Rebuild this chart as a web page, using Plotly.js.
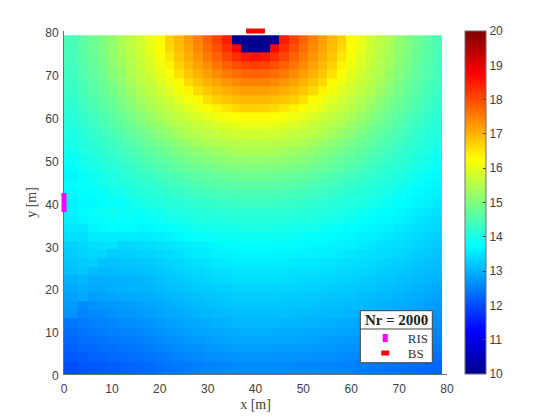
<!DOCTYPE html>
<html><head><meta charset="utf-8">
<script src="https://cdn.plot.ly/plotly-3.0.1.min.js"></script>
<style>html,body{margin:0;padding:0;background:#fff}</style></head>
<body><div id="chart" style="width:560px;height:420px"></div>
<script>
var xEdges=[0,3,5,7,9,11,13,15,17,19,21,23,25,27,29,31,33,35,37,39,41,43,45,47,49,51,53,55,57,59,61,63,65,67,69,71,73,75,77,79];
var yEdges=[0,3,5,7,9,11,13,15,17,19,21,23,25,27,29,31,33,35,37,39,41,43,45,47,49,51,53,55,57,59,61,63,65,67,69,71,73,75,77,79];
var risX=[0], risY=[40];
var bsX=[40], bsY=[80];
var legendTitle='Nr = 2000';
var ticksX=[0,10,20,30,40,50,60,70,80];
var ticksY=[0,10,20,30,40,50,60,70,80];
// rows top (y=78) to bottom (y=1.5)
var rowsTopDown=[
[14.45,14.65,14.8,14.99,15.19,15.44,15.59,15.79,16.04,16.29,16.68,16.93,17.18,17.47,17.77,18.1,18.5,10,10,10,10,10,18.5,18.1,17.77,17.47,17.18,16.93,16.68,16.29,16.04,15.79,15.59,15.44,15.19,14.99,14.8,14.65,14.49],
[14.44,14.63,14.78,14.98,15.17,15.41,15.58,15.77,16.0,16.25,16.61,16.89,17.13,17.4,17.68,17.98,18.3,18.7,10,10,10,18.7,18.3,17.98,17.68,17.4,17.13,16.89,16.61,16.25,16.0,15.77,15.58,15.41,15.17,14.98,14.78,14.63,14.47],
[14.43,14.61,14.76,14.94,15.14,15.37,15.55,15.73,15.94,16.18,16.5,16.81,17.04,17.29,17.55,17.8,18.06,18.3,18.5,18.6,18.5,18.3,18.06,17.8,17.55,17.29,17.04,16.81,16.5,16.18,15.94,15.73,15.55,15.37,15.14,14.94,14.76,14.61,14.46],
[14.4,14.58,14.72,14.9,15.1,15.3,15.5,15.67,15.87,16.1,16.36,16.71,16.93,17.15,17.38,17.6,17.8,17.98,18.1,18.15,18.1,17.98,17.8,17.6,17.38,17.15,16.93,16.71,16.36,16.1,15.87,15.67,15.5,15.3,15.1,14.9,14.72,14.58,14.43],
[14.37,14.54,14.69,14.85,15.04,15.23,15.46,15.6,15.78,16.0,16.22,16.53,16.8,17.0,17.18,17.38,17.55,17.68,17.77,17.8,17.77,17.68,17.55,17.38,17.18,17.0,16.8,16.53,16.22,16.0,15.78,15.6,15.46,15.23,15.04,14.85,14.69,14.54,14.4],
[14.34,14.49,14.65,14.79,14.97,15.15,15.37,15.54,15.69,15.88,16.09,16.3,16.61,16.82,17.0,17.15,17.29,17.4,17.47,17.5,17.47,17.4,17.29,17.15,17.0,16.82,16.61,16.3,16.09,15.88,15.69,15.54,15.37,15.15,14.97,14.79,14.65,14.49,14.37],
[14.28,14.45,14.59,14.73,14.89,15.07,15.26,15.47,15.59,15.76,15.94,16.14,16.34,16.61,16.8,16.93,17.04,17.13,17.18,17.2,17.18,17.13,17.04,16.93,16.8,16.61,16.34,16.14,15.94,15.76,15.59,15.47,15.26,15.07,14.89,14.73,14.59,14.45,14.31],
[14.23,14.39,14.52,14.67,14.8,14.98,15.14,15.34,15.5,15.64,15.79,15.97,16.14,16.3,16.53,16.71,16.81,16.89,16.93,16.95,16.93,16.89,16.81,16.71,16.53,16.3,16.14,15.97,15.79,15.64,15.5,15.34,15.14,14.98,14.8,14.67,14.52,14.39,14.26],
[14.17,14.33,14.46,14.6,14.72,14.87,15.04,15.2,15.39,15.53,15.65,15.79,15.94,16.09,16.22,16.36,16.5,16.61,16.68,16.7,16.68,16.61,16.5,16.36,16.22,16.09,15.94,15.79,15.65,15.53,15.39,15.2,15.04,14.87,14.72,14.6,14.46,14.33,14.2],
[14.12,14.26,14.38,14.51,14.65,14.77,14.92,15.08,15.23,15.41,15.53,15.64,15.76,15.88,16.0,16.1,16.18,16.25,16.29,16.3,16.29,16.25,16.18,16.1,16.0,15.88,15.76,15.64,15.53,15.41,15.23,15.08,14.92,14.77,14.65,14.51,14.38,14.26,14.15],
[14.07,14.19,14.31,14.43,14.55,14.68,14.8,14.94,15.09,15.23,15.39,15.5,15.59,15.69,15.78,15.87,15.94,16.0,16.04,16.05,16.04,16.0,15.94,15.87,15.78,15.69,15.59,15.5,15.39,15.23,15.09,14.94,14.8,14.68,14.55,14.43,14.31,14.19,14.1],
[14.02,14.13,14.23,14.35,14.46,14.58,14.69,14.81,14.94,15.08,15.2,15.34,15.47,15.54,15.6,15.67,15.73,15.77,15.79,15.8,15.79,15.77,15.73,15.67,15.6,15.54,15.47,15.34,15.2,15.08,14.94,14.81,14.69,14.58,14.46,14.35,14.23,14.13,14.05],
[13.97,14.08,14.16,14.26,14.37,14.47,14.59,14.69,14.8,14.92,15.04,15.14,15.26,15.37,15.46,15.5,15.55,15.58,15.59,15.6,15.59,15.58,15.55,15.5,15.46,15.37,15.26,15.14,15.04,14.92,14.8,14.69,14.59,14.47,14.37,14.26,14.16,14.08,14.0],
[13.9,14.02,14.1,14.17,14.27,14.38,14.47,14.58,14.68,14.77,14.87,14.98,15.07,15.15,15.23,15.3,15.37,15.41,15.44,15.45,15.44,15.41,15.37,15.3,15.23,15.15,15.07,14.98,14.87,14.77,14.68,14.58,14.47,14.38,14.27,14.17,14.1,14.02,13.93],
[13.82,13.95,14.03,14.11,14.18,14.27,14.37,14.46,14.55,14.65,14.72,14.8,14.89,14.97,15.04,15.1,15.14,15.17,15.19,15.2,15.19,15.17,15.14,15.1,15.04,14.97,14.89,14.8,14.72,14.65,14.55,14.46,14.37,14.27,14.18,14.11,14.03,13.95,13.85],
[13.74,13.87,13.96,14.04,14.11,14.17,14.26,14.35,14.43,14.51,14.6,14.67,14.73,14.79,14.85,14.9,14.94,14.98,14.99,15.0,14.99,14.98,14.94,14.9,14.85,14.79,14.73,14.67,14.6,14.51,14.43,14.35,14.26,14.17,14.11,14.04,13.96,13.87,13.77],
[13.68,13.78,13.87,13.96,14.03,14.1,14.16,14.23,14.31,14.38,14.46,14.52,14.59,14.65,14.69,14.73,14.76,14.78,14.8,14.8,14.8,14.78,14.76,14.73,14.69,14.65,14.59,14.52,14.46,14.38,14.31,14.23,14.16,14.1,14.03,13.96,13.87,13.78,13.71],
[13.74,13.81,13.83,13.92,14.0,14.02,14.08,14.13,14.19,14.26,14.33,14.39,14.45,14.49,14.54,14.58,14.61,14.63,14.65,14.65,14.65,14.63,14.61,14.58,14.54,14.49,14.45,14.39,14.33,14.26,14.19,14.13,14.08,14.02,13.95,13.87,13.78,13.71,13.66],
[13.69,13.76,13.76,13.82,13.9,13.93,14.0,14.05,14.1,14.15,14.2,14.26,14.31,14.37,14.4,14.43,14.46,14.47,14.49,14.49,14.49,14.47,14.46,14.43,14.4,14.37,14.31,14.26,14.2,14.15,14.1,14.05,14.0,13.93,13.85,13.77,13.71,13.66,13.61],
[13.62,13.71,13.7,13.75,13.8,13.82,13.9,13.96,14.02,14.06,14.11,14.14,14.18,14.22,14.26,14.29,14.32,14.33,14.35,14.35,14.35,14.33,14.32,14.29,14.26,14.22,14.18,14.14,14.11,14.06,14.02,13.96,13.9,13.82,13.75,13.7,13.65,13.61,13.54],
[13.66,13.73,13.8,13.84,13.89,13.83,13.89,13.86,13.92,13.97,14.02,14.05,14.09,14.11,14.14,14.16,14.18,14.19,14.2,14.2,14.2,14.19,14.18,14.16,14.14,14.11,14.09,14.05,14.02,13.97,13.92,13.86,13.79,13.73,13.69,13.64,13.6,13.53,13.48],
[13.6,13.67,13.72,13.78,13.83,13.77,13.81,13.75,13.81,13.86,13.91,13.95,13.99,14.02,14.04,14.06,14.08,14.09,14.1,14.1,14.1,14.09,14.08,14.06,14.04,14.02,13.99,13.95,13.91,13.86,13.81,13.75,13.71,13.67,13.63,13.58,13.52,13.47,13.42],
[13.54,13.51,13.66,13.7,13.75,13.71,13.74,13.67,13.71,13.74,13.79,13.83,13.87,13.91,13.94,13.96,13.98,13.99,14.0,14.0,14.0,13.99,13.98,13.96,13.94,13.91,13.87,13.83,13.79,13.74,13.71,13.67,13.64,13.61,13.55,13.5,13.46,13.41,13.36],
[13.48,13.45,13.55,13.56,13.57,13.55,13.55,13.55,13.57,13.6,13.65,13.7,13.75,13.78,13.81,13.84,13.86,13.87,13.88,13.88,13.88,13.87,13.86,13.84,13.81,13.78,13.75,13.73,13.7,13.67,13.64,13.61,13.57,13.52,13.48,13.44,13.4,13.35,13.3],
[13.31,13.38,13.43,13.47,13.47,13.36,13.37,13.4,13.43,13.47,13.5,13.53,13.57,13.61,13.65,13.69,13.72,13.74,13.75,13.75,13.75,13.74,13.74,13.73,13.71,13.69,13.67,13.65,13.63,13.61,13.57,13.53,13.49,13.45,13.42,13.37,13.33,13.28,13.23],
[13.26,13.33,13.36,13.36,13.25,13.27,13.29,13.31,13.33,13.37,13.41,13.46,13.51,13.56,13.58,13.61,13.64,13.66,13.67,13.67,13.67,13.66,13.66,13.65,13.64,13.62,13.61,13.58,13.55,13.51,13.48,13.46,13.42,13.39,13.35,13.31,13.26,13.23,13.18],
[13.19,13.26,13.28,13.15,13.16,13.18,13.2,13.22,13.25,13.28,13.33,13.37,13.41,13.46,13.49,13.53,13.56,13.59,13.6,13.6,13.6,13.59,13.58,13.57,13.55,13.54,13.51,13.49,13.47,13.44,13.42,13.39,13.35,13.31,13.28,13.23,13.2,13.16,13.11],
[13.13,13.2,13.1,13.06,13.08,13.1,13.12,13.14,13.17,13.21,13.26,13.3,13.34,13.37,13.41,13.44,13.47,13.5,13.5,13.5,13.5,13.5,13.49,13.48,13.47,13.45,13.44,13.42,13.4,13.37,13.34,13.31,13.28,13.25,13.21,13.18,13.14,13.1,13.05],
[12.99,13.05,12.95,12.97,12.99,13.0,13.02,13.04,13.09,13.13,13.18,13.22,13.26,13.3,13.34,13.37,13.4,13.43,13.43,13.43,13.43,13.43,13.42,13.41,13.4,13.38,13.36,13.34,13.32,13.29,13.27,13.23,13.21,13.18,13.14,13.1,13.07,13.03,12.99],
[12.91,12.97,12.9,12.93,12.96,12.99,13.01,13.02,13.04,13.07,13.11,13.15,13.19,13.24,13.26,13.29,13.31,13.34,13.35,13.35,13.35,13.34,13.33,13.33,13.32,13.3,13.29,13.27,13.25,13.23,13.2,13.18,13.15,13.11,13.08,13.05,13.01,12.97,12.93],
[12.83,12.9,12.8,12.84,12.87,12.9,12.92,12.94,12.96,13.0,13.04,13.08,13.11,13.15,13.18,13.21,13.24,13.27,13.27,13.27,13.27,13.27,13.26,13.25,13.24,13.23,13.21,13.2,13.18,13.16,13.12,13.1,13.07,13.05,13.01,12.97,12.94,12.9,12.85],
[12.76,12.62,12.68,12.71,12.74,12.77,12.8,12.84,12.88,12.92,12.96,13.0,13.04,13.08,13.11,13.14,13.17,13.2,13.2,13.2,13.2,13.2,13.19,13.18,13.17,13.16,13.14,13.12,13.1,13.08,13.06,13.04,13.0,12.97,12.94,12.91,12.88,12.82,12.78],
[12.69,12.55,12.58,12.62,12.67,12.7,12.73,12.76,12.81,12.85,12.9,12.93,12.97,13.02,13.03,13.06,13.09,13.12,13.12,13.12,13.12,13.12,13.11,13.1,13.09,13.08,13.07,13.05,13.04,13.01,12.99,12.96,12.93,12.9,12.87,12.82,12.78,12.75,12.71],
[12.41,12.47,12.52,12.55,12.58,12.62,12.65,12.69,12.71,12.77,12.82,12.85,12.9,12.93,12.96,12.99,13.02,13.05,13.05,13.05,13.05,13.05,13.04,13.03,13.02,13.01,13.0,12.97,12.96,12.93,12.91,12.89,12.85,12.82,12.78,12.75,12.72,12.67,12.63],
[12.34,12.4,12.44,12.47,12.51,12.54,12.57,12.6,12.65,12.7,12.75,12.78,12.82,12.87,12.88,12.91,12.94,12.97,12.97,12.97,12.97,12.97,12.96,12.95,12.94,12.93,12.92,12.9,12.89,12.86,12.83,12.8,12.77,12.74,12.71,12.67,12.64,12.6,12.56],
[12.27,12.33,12.37,12.4,12.43,12.46,12.49,12.52,12.57,12.6,12.65,12.69,12.73,12.77,12.81,12.84,12.87,12.89,12.9,12.9,12.9,12.89,12.89,12.88,12.87,12.85,12.83,12.81,12.79,12.76,12.75,12.72,12.69,12.66,12.63,12.6,12.57,12.53,12.49],
[12.2,12.26,12.29,12.33,12.35,12.38,12.41,12.44,12.48,12.53,12.57,12.61,12.65,12.68,12.71,12.74,12.77,12.8,12.8,12.8,12.8,12.8,12.79,12.78,12.77,12.76,12.75,12.73,12.71,12.69,12.66,12.64,12.61,12.58,12.55,12.53,12.49,12.46,12.42],
[12.12,12.17,12.21,12.25,12.28,12.31,12.33,12.36,12.41,12.44,12.49,12.53,12.56,12.62,12.65,12.66,12.69,12.71,12.72,12.72,12.72,12.71,12.71,12.7,12.69,12.68,12.66,12.65,12.63,12.6,12.59,12.56,12.53,12.51,12.48,12.45,12.41,12.37,12.34],
[12.02,12.08,12.11,12.14,12.17,12.2,12.24,12.26,12.31,12.35,12.41,12.45,12.48,12.5,12.53,12.55,12.58,12.6,12.61,12.61,12.61,12.6,12.6,12.59,12.59,12.58,12.56,12.55,12.53,12.51,12.49,12.46,12.44,12.4,12.37,12.34,12.31,12.28,12.24]
];
var jet=[[0,'rgb(0,0,143)'],[0.125,'rgb(0,0,255)'],[0.375,'rgb(0,255,255)'],[0.625,'rgb(255,255,0)'],[0.875,'rgb(255,0,0)'],[1,'rgb(128,0,0)']];
var axisGrey='#6e6e6e', textGrey='#404040', sans='"Liberation Sans",Arial,sans-serif', serif='"Liberation Serif",serif';
var z=rowsTopDown.slice().reverse();
var traces=[
 {type:'heatmap',x:xEdges,y:yEdges,z:z,zmin:10,zmax:20,zsmooth:false,colorscale:jet,showlegend:false,hoverinfo:'skip',
  colorbar:{x:(464.5-63.5)/383.2,xanchor:'left',y:0,yanchor:'bottom',thickness:21,thicknessmode:'pixels',len:1,lenmode:'fraction',
   xpad:0,ypad:0,tick0:10,dtick:1,ticks:'inside',ticklen:3,tickcolor:'#444',tickwidth:1,outlinecolor:axisGrey,outlinewidth:1,
   tickfont:{family:sans,size:12,color:textGrey}}},
 {type:'scatter',mode:'markers',x:risX,y:risY,marker:{symbol:'line-ns',size:13.5,color:'#ff00ff',line:{color:'#ff00ff',width:5}},cliponaxis:false,showlegend:false,hoverinfo:'skip'},
 {type:'scatter',mode:'markers',x:bsX,y:bsY,marker:{symbol:'line-ew',size:13.5,color:'#ff0000',line:{color:'#ff0000',width:5}},cliponaxis:false,showlegend:false,hoverinfo:'skip'},
 {type:'scatter',mode:'markers',name:'RIS',legend:'legend3',x:[null],y:[null],marker:{symbol:'line-ns',size:5.7,color:'#ff00ff',line:{color:'#ff00ff',width:5}}},
 {type:'scatter',mode:'markers',name:'BS',legend:'legend2',x:[null],y:[null],marker:{symbol:'line-ew',size:5.7,color:'#ff0000',line:{color:'#ff0000',width:5}}}
];
var axis={range:[0,80],ticks:'inside',ticklen:3,tickcolor:axisGrey,showline:true,linecolor:axisGrey,linewidth:1,showgrid:false,zeroline:false,layer:'below traces',
  tickfont:{family:sans,size:12,color:textGrey}};
var itemFont={family:serif,size:13,color:'#333'};
var legendBase={x:0.78,xanchor:'left',yanchor:'top',bgcolor:'rgba(0,0,0,0)',borderwidth:0,itemwidth:35,font:itemFont};
var layout={width:560,height:420,paper_bgcolor:'#fff',plot_bgcolor:'#fff',
 margin:{l:63.5,r:113.3,t:31,b:46,autoexpand:false},
 xaxis:Object.assign({},axis,{tickvals:ticksX,ticklabelstandoff:4,title:{text:'x [m]',standoff:3,font:{family:serif,size:14,color:textGrey}}}),
 yaxis:Object.assign({},axis,{tickvals:ticksY,ticklabelstandoff:2,ticklabelshift:2,title:{text:'y [m]',standoff:5,font:{family:serif,size:14,color:textGrey}}}),
 showlegend:true,
 legend3:Object.assign({},legendBase,{y:0.1487}),
 legend2:Object.assign({},legendBase,{y:0.105}),
 annotations:[{xref:'paper',yref:'paper',x:0.8677,y:0.1574,xanchor:'center',yanchor:'middle',showarrow:false,text:'<b>'+legendTitle+'</b>',font:{family:serif,size:15,color:'#222'}}],
 shapes:[
  {type:'rect',xref:'paper',yref:'paper',x0:0.7737,x1:0.9616,y0:0.0329,y1:0.1845,fillcolor:'#fff',line:{color:'#444',width:1},layer:'above'},
  {type:'line',xref:'paper',yref:'paper',x0:0.7737,x1:0.9616,y0:0.1312,y1:0.1312,line:{color:'#444',width:1},layer:'above'}
 ]};
Plotly.newPlot('chart',traces,layout,{displayModeBar:false,staticPlot:true});
</script></body></html>
